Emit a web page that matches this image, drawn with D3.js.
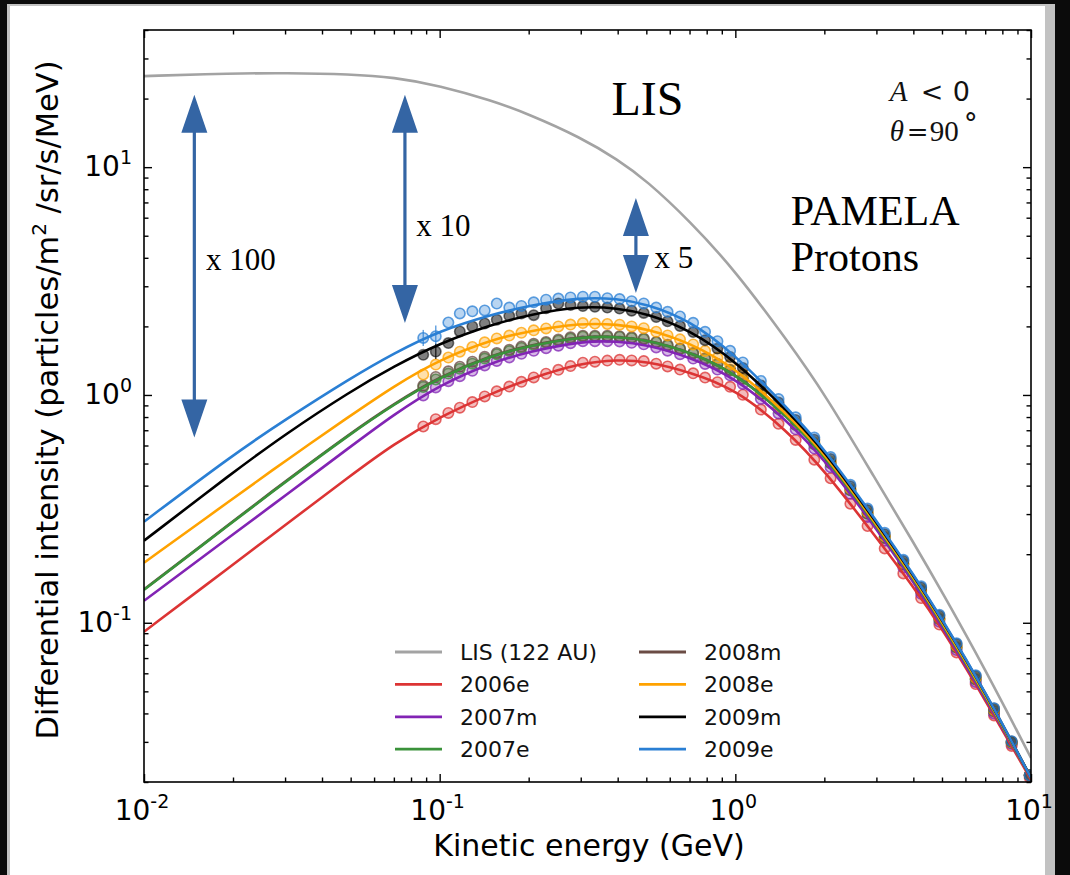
<!DOCTYPE html>
<html><head><meta charset="utf-8">
<script src="https://cdn.jsdelivr.net/npm/d3@7"></script>
<style>
html,body{margin:0;padding:0;background:#0b0b0b;}
svg{display:block;}
</style></head><body>
<svg id="chart" width="1070" height="875"></svg>
<script>
// ---------------- data ----------------
const energyGrid = [0.01, 0.02, 0.03, 0.05, 0.07, 0.1, 0.15, 0.2, 0.3, 0.4, 0.5, 0.7, 1, 1.5, 2, 3, 4, 5, 7, 10];
const curveLIS   = [25.1, 25.8, 25.9, 25.6, 24.8, 22.8, 19.6, 17.1, 13.5, 10.8, 8.75, 5.82, 3.51, 1.73, 1.017, 0.420, 0.2257, 0.1368, 0.0625, 0.0255];
const curve2006e = [0.0913, 0.180, 0.268, 0.443, 0.610, 0.802, 1.017, 1.175, 1.382, 1.428, 1.407, 1.262, 1.065, 0.695, 0.467, 0.237, 0.144, 0.0945, 0.0459, 0.02045];
const curve2007m = [0.1249, 0.2442, 0.3611, 0.5937, 0.8214, 1.107, 1.389, 1.547, 1.724, 1.722, 1.664, 1.469, 1.19, 0.7705, 0.5248, 0.2586, 0.1514, 0.097, 0.0468, 0.0209];
const curve2007e = [0.1396, 0.2773, 0.4143, 0.6759, 0.9089, 1.196, 1.489, 1.640, 1.802, 1.802, 1.75, 1.545, 1.252, 0.805, 0.5466, 0.2667, 0.156, 0.0995, 0.048, 0.0209];
const curve2008m = [0.1400, 0.2790, 0.4170, 0.6800, 0.9150, 1.204, 1.498, 1.648, 1.808, 1.806, 1.752, 1.546, 1.253, 0.806, 0.547, 0.267, 0.156, 0.0995, 0.048, 0.0209];
const curve2008e = [0.1834, 0.351, 0.5128, 0.8132, 1.094, 1.432, 1.75, 1.907, 2.07, 2.041, 1.956, 1.701, 1.317, 0.823, 0.5577, 0.2707, 0.1584, 0.101, 0.0488, 0.0209];
const curve2009m = [0.2291, 0.4574, 0.672, 1.039, 1.335, 1.686, 2.037, 2.248, 2.458, 2.404, 2.281, 1.936, 1.414, 0.850, 0.5715, 0.2762, 0.1617, 0.1031, 0.0498, 0.0209];
const curve2009e = [0.2776, 0.5466, 0.778, 1.186, 1.525, 1.915, 2.256, 2.466, 2.687, 2.647, 2.51, 2.132, 1.502, 0.8745, 0.583, 0.2805, 0.1633, 0.1041, 0.05005, 0.02086];

const pointEnergy = [0.088, 0.097, 0.107, 0.117, 0.129, 0.142, 0.156, 0.172, 0.189, 0.208, 0.229, 0.252, 0.277, 0.305, 0.335, 0.369, 0.406, 0.446, 0.49, 0.54, 0.59, 0.65, 0.72, 0.79, 0.87, 0.96, 1.06, 1.22, 1.4, 1.6, 1.85, 2.1, 2.45, 2.8, 3.2, 3.7, 4.25, 4.9, 5.6, 6.5, 7.5, 8.6, 9.9];
const points2006e = [0.727, 0.783, 0.834, 0.879, 0.931, 0.985, 1.037, 1.089, 1.142, 1.194, 1.24, 1.289, 1.339, 1.385, 1.40, 1.415, 1.427, 1.418, 1.409, 1.372, 1.334, 1.293, 1.245, 1.192, 1.138, 1.086, 1.002, 0.863, 0.747, 0.635, 0.52, 0.431, 0.333, 0.266, 0.212, 0.1647, 0.1283, 0.0982, 0.0741, 0.0538, 0.0392, 0.0288, 0.0209];
const points2007m = [0.995, 1.079, 1.15, 1.209, 1.277, 1.348, 1.41, 1.462, 1.515, 1.563, 1.604, 1.645, 1.687, 1.723, 1.723, 1.722, 1.718, 1.693, 1.669, 1.617, 1.565, 1.51, 1.445, 1.368, 1.292, 1.219, 1.118, 0.962, 0.83, 0.707, 0.582, 0.482, 0.368, 0.2914, 0.2293, 0.1749, 0.134, 0.101, 0.0759, 0.055, 0.04, 0.0294, 0.0213];
const points2007e = [1.084, 1.169, 1.241, 1.302, 1.372, 1.445, 1.509, 1.559, 1.609, 1.655, 1.692, 1.73, 1.769, 1.802, 1.802, 1.802, 1.798, 1.777, 1.755, 1.701, 1.646, 1.588, 1.52, 1.439, 1.359, 1.283, 1.175, 1.008, 0.868, 0.738, 0.607, 0.501, 0.3814, 0.301, 0.2363, 0.1803, 0.138, 0.1036, 0.0778, 0.0564, 0.0409, 0.0297, 0.0214];
const points2008m = [1.10, 1.20, 1.27, 1.33, 1.40, 1.47, 1.53, 1.58, 1.63, 1.68, 1.71, 1.75, 1.79, 1.82, 1.82, 1.82, 1.81, 1.79, 1.77, 1.71, 1.66, 1.60, 1.53, 1.45, 1.37, 1.29, 1.18, 1.01, 0.873, 0.742, 0.61, 0.503, 0.383, 0.302, 0.237, 0.181, 0.1385, 0.104, 0.078, 0.0566, 0.041, 0.0298, 0.0214];
const points2008e = [1.23, 1.36, 1.46, 1.548, 1.624, 1.703, 1.771, 1.823, 1.875, 1.922, 1.96, 1.998, 2.037, 2.068, 2.059, 2.049, 2.035, 1.999, 1.963, 1.894, 1.826, 1.754, 1.667, 1.56, 1.455, 1.356, 1.231, 1.046, 0.892, 0.754, 0.62, 0.5113, 0.388, 0.306, 0.24, 0.183, 0.1402, 0.1052, 0.079, 0.0573, 0.0414, 0.0299, 0.0214];
const points2009m = [1.50, 1.55, 1.69, 1.90, 2.00, 2.06, 2.14, 2.22, 2.28, 2.24, 2.40, 2.52, 2.48, 2.455, 2.437, 2.419, 2.395, 2.343, 2.292, 2.197, 2.104, 2.007, 1.888, 1.74, 1.598, 1.466, 1.314, 1.101, 0.927, 0.777, 0.636, 0.5236, 0.397, 0.3125, 0.2448, 0.1868, 0.143, 0.1074, 0.0807, 0.0584, 0.042, 0.0301, 0.0214];
const points2009e = [1.78, 1.81, 2.08, 2.28, 2.33, 2.35, 2.52, 2.42, 2.46, 2.55, 2.62, 2.65, 2.68, 2.70, 2.70, 2.66, 2.637, 2.579, 2.523, 2.418, 2.317, 2.21, 2.074, 1.893, 1.722, 1.563, 1.39, 1.152, 0.959, 0.798, 0.65, 0.534, 0.404, 0.3174, 0.2483, 0.189, 0.1445, 0.1085, 0.0814, 0.0588, 0.0422, 0.0302, 0.0214];

// error bars: [energy, low, high]
const errors2009e = [[0.088, 1.64, 1.93], [0.097, 1.62, 2.02]];
const errors2009m = [[0.097, 1.44, 1.68]];

const seriesNames = ["LIS (122 AU)", "2006e", "2007m", "2007e", "2008m", "2008e", "2009m", "2009e"];
const xTickMajor = [0.01, 0.1, 1, 10];
const xTickExp = ["-2", "-1", "0", "1"];
const yTickMajor = [0.1, 1, 10];
const yTickExp = ["-1", "0", "1"];

// annotation arrows (energy, top value, bottom value) and labels in data coordinates
const arrowsAnn = [[0.0148, 20.8, 0.65], [0.0763, 20.8, 2.07], [0.461, 7.32, 2.80]];
const arrowLabels = [["x 100", 0.0162, 3.52], ["x 10", 0.0834, 5.0], ["x 5", 0.533, 3.61]];

// ---------------- style ----------------
const colors = {
  "LIS (122 AU)": "#a3a3a3", "2006e": "#dc3434", "2007m": "#8224b4", "2007e": "#3a923a",
  "2008m": "#6b4c45", "2008e": "#ffa200", "2009m": "#000000", "2009e": "#2a7fd4"
};
const curves = {
  "LIS (122 AU)": curveLIS, "2006e": curve2006e, "2007m": curve2007m, "2007e": curve2007e,
  "2008m": curve2008m, "2008e": curve2008e, "2009m": curve2009m, "2009e": curve2009e
};
const points = {
  "2006e": points2006e, "2007m": points2007m, "2007e": points2007e, "2008m": points2008m,
  "2008e": points2008e, "2009m": points2009m, "2009e": points2009e
};

const W = 1070, H = 875;
const L = 144, R = 1031, T = 30, B = 782;
const svg = d3.select("#chart");

// screenshot-like frame
svg.append("rect").attr("x", 0).attr("y", 0).attr("width", W).attr("height", H).attr("fill", "#0b0b0b");
svg.append("rect").attr("x", 7).attr("y", 4).attr("width", 1048).attr("height", H).attr("fill", "#c2c2c2");
svg.append("rect").attr("x", 10).attr("y", 6).attr("width", 1035).attr("height", H).attr("fill", "#ffffff");

const x = d3.scaleLog().domain([0.01, 10]).range([L, R]);
const y = d3.scaleLog().domain([0.02, 40]).range([B, T]);

svg.append("defs").append("clipPath").attr("id", "plotclip")
  .append("rect").attr("x", L).attr("y", T).attr("width", R - L).attr("height", B - T);

const plot = svg.append("g").attr("clip-path", "url(#plotclip)");

// data points
const pointOrder = ["2006e", "2007m", "2007e", "2008m", "2008e", "2009m", "2009e"];
pointOrder.forEach(name => {
  const c = colors[name];
  const data = pointEnergy.map((e, i) => [e, points[name][i]]);
  plot.append("g").selectAll("circle").data(data).join("circle")
    .attr("cx", d => x(d[0])).attr("cy", d => y(d[1])).attr("r", 5.2)
    .attr("fill", c).attr("fill-opacity", name === "2009m" ? 0.5 : 0.33)
    .attr("stroke", c).attr("stroke-opacity", name === "2009m" ? 0.55 : 0.75).attr("stroke-width", 1.6);
});
[[errors2009e, colors["2009e"]], [errors2009m, colors["2009m"]]].forEach(([errs, c]) => {
  plot.append("g").selectAll("line").data(errs).join("line")
    .attr("x1", d => x(d[0])).attr("x2", d => x(d[0]))
    .attr("y1", d => y(d[1])).attr("y2", d => y(d[2]))
    .attr("stroke", c).attr("stroke-opacity", 0.7).attr("stroke-width", 1.5);
});

// curves
const line = d3.line().x(d => x(d[0])).y(d => y(d[1])).curve(d3.curveBasis);
const lineOrder = ["LIS (122 AU)", "2008m", "2006e", "2007m", "2007e", "2008e", "2009m", "2009e"];
lineOrder.forEach(name => {
  const data = energyGrid.map((e, i) => [e, curves[name][i]]);
  plot.append("path").datum(data).attr("d", line)
    .attr("fill", "none").attr("stroke", colors[name])
    .attr("stroke-width", 2.6);
});

// arrows
const arrowColor = "#3465a4";
arrowsAnn.forEach(([e, hi, lo]) => {
  const xc = x(e), yt = y(hi), yb = y(lo);
  const hl = 38, hw = 13, sw = 1.6;
  const pts = [[xc, yt], [xc + hw, yt + hl], [xc + sw, yt + hl], [xc + sw, yb - hl], [xc + hw, yb - hl],
    [xc, yb], [xc - hw, yb - hl], [xc - sw, yb - hl], [xc - sw, yt + hl], [xc - hw, yt + hl]];
  svg.append("polygon").attr("points", pts.map(p => p.join(",")).join(" ")).attr("fill", arrowColor);
});
arrowLabels.forEach(([t, e, v]) => {
  svg.append("text").attr("x", x(e)).attr("y", y(v)).text(t)
    .attr("font-family", "Liberation Serif").attr("font-size", 31).attr("fill", "#000");
});

// big annotations
svg.append("text").attr("x", x(0.381)).attr("y", y(17.0)).text("LIS")
  .attr("font-family", "Liberation Serif").attr("font-size", 48).attr("fill", "#000");
svg.append("text").attr("x", x(1.54)).attr("y", y(5.58)).text("PAMELA")
  .attr("font-family", "Liberation Serif").attr("font-size", 42).attr("fill", "#000");
svg.append("text").attr("x", x(1.54)).attr("y", y(3.51)).text("Protons")
  .attr("font-family", "Liberation Serif").attr("font-size", 42).attr("fill", "#000");

// A < 0 and theta
const ax0 = x(3.33), ay0 = y(19.55);
svg.append("text").attr("x", ax0).attr("y", ay0).text("A")
  .attr("font-family", "Liberation Serif").attr("font-style", "italic").attr("font-size", 29).attr("fill", "#111");
svg.append("text").attr("x", ax0 + 31).attr("y", ay0).text("<")
  .attr("font-family", "DejaVu Sans").attr("font-size", 27).attr("fill", "#111");
svg.append("text").attr("x", ax0 + 63).attr("y", ay0).text("0")
  .attr("font-family", "DejaVu Sans").attr("font-size", 27).attr("fill", "#111");
const tx0 = x(3.33), ty0 = y(13.0);
svg.append("text").attr("x", tx0).attr("y", ty0).text("θ")
  .attr("font-family", "Liberation Serif").attr("font-style", "italic").attr("font-size", 29).attr("fill", "#111");
svg.append("text").attr("x", tx0 + 17).attr("y", ty0).text("=")
  .attr("font-family", "DejaVu Serif").attr("font-size", 26).attr("fill", "#111");
svg.append("text").attr("x", tx0 + 40).attr("y", ty0).text("90")
  .attr("font-family", "Liberation Serif").attr("font-size", 29).attr("fill", "#111");
svg.append("text").attr("x", tx0 + 74).attr("y", ty0 - 8).text("°")
  .attr("font-family", "DejaVu Serif").attr("font-size", 28).attr("fill", "#111");

// frame + ticks
const tickColor = "#000";
function minorTicks(lo, hi) {
  const out = [];
  for (let d = lo; d < hi; d *= 10) for (let k = 2; k <= 9; k++) { const v = d * k; if (v > lo && v < hi) out.push(v); }
  return out;
}
const xMinor = minorTicks(0.01, 10);
const yMinor = minorTicks(0.01, 100).filter(v => v >= 0.02 && v <= 40);

function addAxis(gen, tr) {
  const g = svg.append("g").attr("transform", tr).call(gen);
  g.select(".domain").remove();
  g.selectAll("line").attr("stroke", tickColor).attr("stroke-width", 1.4);
  g.selectAll("text").remove();
}
addAxis(d3.axisBottom(x).tickValues(xTickMajor).tickSize(-8), `translate(0,${B})`);
addAxis(d3.axisBottom(x).tickValues(xMinor).tickSize(-4.5), `translate(0,${B})`);
addAxis(d3.axisTop(x).tickValues(xTickMajor).tickSize(-8), `translate(0,${T})`);
addAxis(d3.axisTop(x).tickValues(xMinor).tickSize(-4.5), `translate(0,${T})`);
addAxis(d3.axisLeft(y).tickValues(yTickMajor).tickSize(-8), `translate(${L},0)`);
addAxis(d3.axisLeft(y).tickValues(yMinor).tickSize(-4.5), `translate(${L},0)`);
addAxis(d3.axisRight(y).tickValues(yTickMajor).tickSize(-8), `translate(${R},0)`);
addAxis(d3.axisRight(y).tickValues(yMinor).tickSize(-4.5), `translate(${R},0)`);

svg.append("rect").attr("x", L).attr("y", T).attr("width", R - L).attr("height", B - T)
  .attr("fill", "none").attr("stroke", "#000").attr("stroke-width", 1.6);

// tick labels
const tickFont = "DejaVu Sans";
xTickMajor.forEach((v, i) => {
  const t = svg.append("text").attr("x", x(v) - 2).attr("y", 820).attr("text-anchor", "middle")
    .attr("font-family", tickFont).attr("font-size", 28).attr("fill", "#000");
  t.append("tspan").text("10");
  t.append("tspan").attr("dy", -12).attr("font-size", 19).text(xTickExp[i]);
});
yTickMajor.forEach((v, i) => {
  const t = svg.append("text").attr("x", 132).attr("y", y(v) + 9).attr("text-anchor", "end")
    .attr("font-family", tickFont).attr("font-size", 28).attr("fill", "#000");
  t.append("tspan").text("10");
  t.append("tspan").attr("dy", -12).attr("font-size", 19).text(yTickExp[i]);
});

// axis labels
svg.append("text").attr("x", 589).attr("y", 856).attr("text-anchor", "middle")
  .attr("font-family", tickFont).attr("font-size", 30).attr("fill", "#000").text("Kinetic energy (GeV)");
const yl = svg.append("text").attr("transform", "translate(58,400) rotate(-90)").attr("text-anchor", "middle")
  .attr("font-family", tickFont).attr("font-size", 30.5).attr("fill", "#000");
yl.append("tspan").text("Differential intensity (particles/m");
yl.append("tspan").attr("dy", -12).attr("font-size", 20).text("2");
yl.append("tspan").attr("dy", 12).text(" /sr/s/MeV)");

// legend
const legendCols = [[seriesNames.slice(0, 4), 395], [seriesNames.slice(4), 639]];
legendCols.forEach(([names, lx]) => {
  names.forEach((n, i) => {
    const ly = 652 + i * 32.4;
    svg.append("line").attr("x1", lx).attr("x2", lx + 47).attr("y1", ly).attr("y2", ly)
      .attr("stroke", colors[n]).attr("stroke-width", 2.8);
    svg.append("text").attr("x", lx + 65).attr("y", ly + 8).text(n)
      .attr("font-family", tickFont).attr("font-size", 22).attr("fill", "#111");
  });
});
</script>
</body></html>
